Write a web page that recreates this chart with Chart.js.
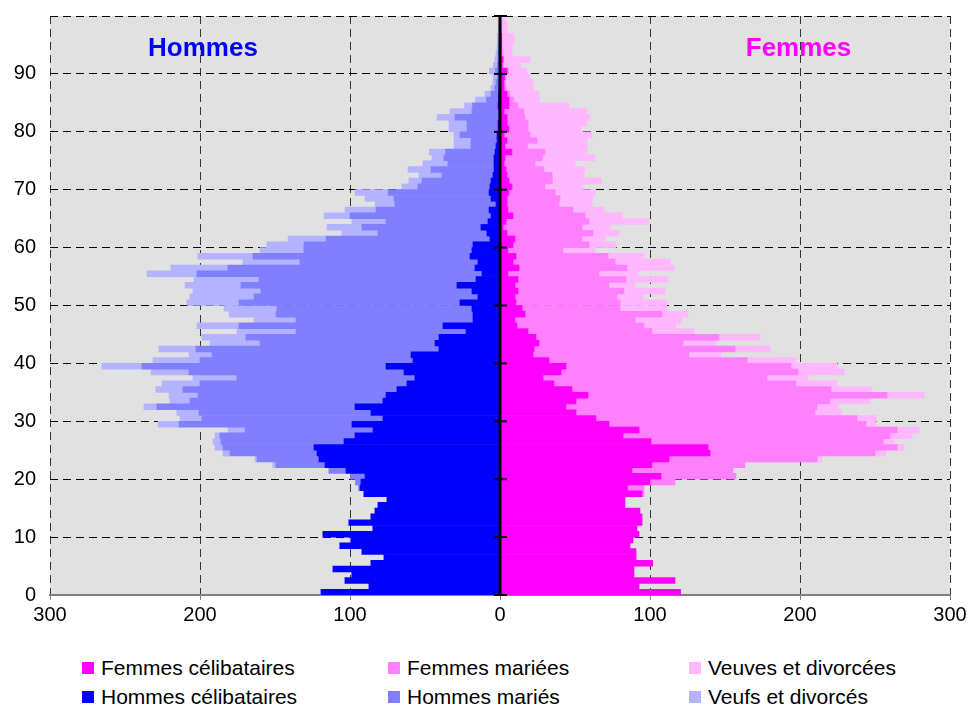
<!DOCTYPE html>
<html>
<head>
<meta charset="utf-8">
<script src="https://cdn.jsdelivr.net/npm/chart.js@4.4.0/dist/chart.umd.min.js"></script>
<style>
  body { margin: 0; background: #fff; font-family: "Liberation Sans", Arial, sans-serif; }
  #wrap { position: relative; width: 970px; height: 709px; }
  #box { position: absolute; left: 0; top: 0; width: 970px; height: 640px; }
  #legende .item { position: absolute; display: flex; align-items: center; font-size: 21px; color: #000; white-space: nowrap; height: 24px; }
  #legende .sw { width: 12px; height: 12px; margin-right: 7px; display: inline-block; }
</style>
</head>
<body>
<div id="wrap">
  <div id="box"><canvas id="pyramide"></canvas></div>
  <div id="legende"></div>
</div>
<script>
// ages 0 a 99
const ages = Array.from({ length: 100 }, (_, i) => i);
const ticksAge = [0, 10, 20, 30, 40, 50, 60, 70, 80, 90];

const hommesCelib = [
  119.3, 87.3, 103.3, 98.7, 111.3, 86, 77.3, 92, 106.7, 99.3,
  118, 84.7, 100.7, 86, 83.3, 81.3, 75.3, 90.7, 93.3, 92.7,
  90, 102.7, 116.7, 120.7, 122, 124, 104, 96.7, 84.7, 98.7,
  78, 86, 96.7, 78, 76, 68.7, 62, 56.7, 64, 76,
  58, 59.3, 40.7, 43.3, 40.7, 22.7, 38, 18, 18, 18.7,
  26.7, 14.7, 18.7, 28.7, 16, 12, 16.7, 14.7, 20, 18.7,
  18, 6.7, 8.7, 12.7, 8, 6, 7.3, 2.7, 6, 7.3,
  6.7, 6, 4.7, 4, 4, 4, 3.3, 2.7, 2, 2,
  1.3, 1.3, 0.7, 0.7, 1.3, 1, 1, 0.7, 0.7, 0.3,
  0.5, 0.3, 0.3, 0.2, 0, 0, 0, 0, 0, 0
];
const hommesMaries = [
  0, 0, 0, 0, 0, 0, 0, 0, 0, 0,
  0, 0, 0, 0, 0, 0, 0, 0, 1, 3.6,
  9.3, 11.3, 32.7, 41.3, 58, 60.7, 82, 90, 85.3, 115.3,
  120.7, 114.7, 132, 128.7, 125.3, 142.7, 138, 118.7, 143.3, 162.7,
  142, 132.7, 162, 116.7, 128.7, 113.3, 136, 118, 131.3, 130,
  147.3, 149.3, 140.7, 144, 144.7, 190, 164.7, 118.7, 144.7, 112,
  112.7, 109.3, 72.7, 79.3, 68, 94, 75.3, 67.3, 64.7, 67.3,
  48, 46, 34, 42, 30.7, 33.3, 33, 16.7, 17.3, 24.7,
  20.7, 20.7, 29.3, 18, 17, 8, 5, 2.7, 2, 1.5,
  2.5, 1.5, 1, 1, 1, 0.7, 0.5, 0.3, 0.3, 0.3
];
const hommesVeufs = [
  0, 0, 0, 0, 0, 0, 0, 0, 0, 0,
  0, 0, 0, 0, 0, 0, 0, 0, 0, 0,
  0, 0, 2, 1.3, 4.7, 5.3, 5.3, 3.3, 11.3, 14,
  14.7, 14.7, 8.7, 13.3, 19.3, 18, 25.3, 29.3, 25.3, 26.7,
  31.3, 15.3, 24.7, 33.3, 29.3, 39.3, 28, 28, 31.3, 35.3,
  34.7, 42.7, 45.3, 37.3, 43.3, 33.3, 38, 38, 36.7, 29.3,
  24.7, 25.3, 24, 23.3, 22.7, 17.3, 20.7, 13.3, 19.3, 22,
  10.7, 8.7, 15.3, 15.3, 16.7, 8, 10.7, 11.3, 11.3, 4,
  12, 12, 12, 14.7, 5.3, 7.3, 4, 2.7, 2, 2.7,
  4, 2.7, 2, 1.5, 1, 1, 1.3, 0.7, 0.3, 0.3
];

const femmesCelib = [
  120.4, 92.7, 116.7, 89.3, 89.3, 101.8, 90.7, 90.7, 86.7, 88.7,
  92.7, 91.3, 94.7, 94.7, 93.3, 83.3, 83.3, 94.7, 84.9, 100,
  107.3, 88, 101.3, 112.7, 140, 138.7, 100.7, 82, 92.7, 72.7,
  64, 50.7, 44, 50.7, 58.7, 48, 36, 28.7, 40.7, 44,
  32.7, 22, 22.7, 26, 24, 18.7, 11.3, 10, 16.7, 14.7,
  10.7, 10, 12, 10, 12, 5.3, 12.7, 8.7, 10.7, 5.3,
  8.7, 10, 4.7, 2, 4, 8.7, 5.3, 4.7, 4.7, 6,
  8, 6, 4.7, 4, 2.7, 3.3, 8, 3.3, 4.7, 2.7,
  6, 4.7, 4.7, 2.7, 6, 6, 4.7, 2.7, 2.7, 3,
  4.7, 1.5, 2, 1, 1, 1, 1, 0.7, 0.7, 0.5
];
const femmesMariees = [
  0, 0, 0, 0, 0, 0, 0, 0, 0, 0,
  0, 0, 0, 0, 0, 0, 0, 1.3, 11.1, 16.7,
  50, 67.3, 62, 98.7, 110, 126, 154.7, 178, 172, 171.3,
  174, 159.3, 167.3, 169.3, 199.3, 172.7, 161.3, 149.3, 158, 150,
  132, 104, 134, 96, 122, 82.7, 84.7, 80, 91.3, 65.3,
  69.3, 68, 70.7, 62.7, 72, 60.7, 72, 68, 61.3, 36.7,
  50.7, 44.7, 57.3, 52.7, 55.3, 48, 43.3, 34.7, 35.3, 30.7,
  22, 29, 30, 25.3, 20.7, 25, 22, 15, 20, 17.3,
  12.7, 14, 12, 13.3, 6, 3, 2, 1.3, 1, 1,
  1, 0.5, 0.5, 0.3, 0.3, 0.3, 0.3, 0, 0, 0
];
const femmesVeuves = [
  0, 0, 0, 0, 0, 0, 0, 0, 0, 0,
  0, 0, 0, 0, 0, 0, 0, 0, 0, 0,
  0, 0, 0, 3.3, 7.3, 4.7, 7.3, 14.7, 14.7, 6.7,
  12.7, 18, 14, 26.7, 24.7, 27.3, 27.3, 27.3, 30.7, 30.7,
  32.7, 21.3, 23.3, 22, 27.3, 28, 21.3, 31.3, 17.3, 31.3,
  31.3, 17.3, 27.3, 17.3, 28, 26, 31.3, 36.7, 24, 21.3,
  18, 15.3, 17.3, 18.7, 40, 24.7, 20.7, 22, 22, 26.7,
  25.3, 32.7, 21.3, 27.3, 26.7, 35, 28, 40, 33.3, 41.3,
  35.3, 39.3, 43.3, 42, 34, 17.3, 19.3, 18, 18.3, 16,
  12.3, 12, 17.5, 6.7, 6.7, 8, 8, 4, 4, 3
];

// hommes a gauche (valeurs negatives), barre centree sur age + 0.5
function serie(valeurs, signe) {
  return valeurs.map((v, i) => ({ x: signe * v, y: ages[i] + 0.5 }));
}

// une seule pile : les negatifs et les positifs s'empilent chacun de leur cote
const datasets = [
  { label: 'Hommes célibataires', data: serie(hommesCelib, -1), backgroundColor: '#0000ff' },
  { label: 'Hommes mariés', data: serie(hommesMaries, -1), backgroundColor: '#8080ff' },
  { label: 'Veufs et divorcés', data: serie(hommesVeufs, -1), backgroundColor: '#b3b3ff' },
  { label: 'Femmes célibataires', data: serie(femmesCelib, 1), backgroundColor: '#ff00ff' },
  { label: 'Femmes mariées', data: serie(femmesMariees, 1), backgroundColor: '#ff80ff' },
  { label: 'Veuves et divorcées', data: serie(femmesVeuves, 1), backgroundColor: '#ffb8ff' }
];
datasets.forEach(d => {
  d.barPercentage = 1;
  d.categoryPercentage = 1;
  d.borderWidth = 0;
});

const fondGris = {
  id: 'fondGris',
  beforeDraw(chart) {
    const { ctx, chartArea: a } = chart;
    ctx.save();
    ctx.fillStyle = '#e1e1e1';
    ctx.fillRect(a.left, a.top, a.right - a.left, a.bottom - a.top);
    ctx.restore();
  }
};

const axeCentral = {
  id: 'axeCentral',
  afterDatasetsDraw(chart) {
    const { ctx, chartArea, scales: { x, y } } = chart;
    const x0 = x.getPixelForValue(0);
    ctx.save();
    ctx.strokeStyle = '#000';
    ctx.lineWidth = 3;
    ctx.beginPath();
    ctx.moveTo(x0, chartArea.top);
    ctx.lineTo(x0, chartArea.bottom);
    ctx.stroke();
    ctx.lineWidth = 2;
    ticksAge.concat([100]).forEach(a => {
      const py = y.getPixelForValue(a);
      ctx.beginPath();
      ctx.moveTo(x0 - 6, py);
      ctx.lineTo(x0 + 7, py);
      ctx.stroke();
    });
    ctx.font = 'bold 26px "Liberation Sans", Arial, sans-serif';
    ctx.textAlign = 'center';
    ctx.textBaseline = 'middle';
    ctx.fillStyle = '#0000ff';
    ctx.fillText('Hommes', x.getPixelForValue(-198), y.getPixelForValue(94.3));
    ctx.fillStyle = '#ff00ff';
    ctx.fillText('Femmes', x.getPixelForValue(199), y.getPixelForValue(94.3));
    ctx.restore();
  }
};

Chart.defaults.font.family = '"Liberation Sans", Arial, sans-serif';
Chart.defaults.font.size = 20;
Chart.defaults.color = '#000';

const chart = new Chart(document.getElementById('pyramide'), {
  type: 'bar',
  data: { datasets: datasets },
  options: {
    indexAxis: 'y',
    responsive: true,
    maintainAspectRatio: false,
    animation: false,
    layout: { padding: { top: 16, right: 20, left: 0, bottom: 0 } },
    plugins: {
      legend: { display: false },
      tooltip: { enabled: false }
    },
    scales: {
      x: {
        type: 'linear',
        stacked: true,
        min: -300,
        max: 300,
        afterFit: s => { s.height = 45; },
        ticks: { stepSize: 100, padding: 3, callback: v => Math.abs(v) },
        grid: {
          color: c => c.tick.value === 0 ? 'rgba(0,0,0,0)' : '#333',
          tickColor: '#808080',
          tickLength: 5,
          tickBorderDash: [],
          lineWidth: 1
        },
        border: { display: true, color: '#808080', width: 2, dash: [8, 5] }
      },
      y: {
        type: 'linear',
        stacked: true,
        offset: false,
        min: 0,
        max: 100,
        afterFit: s => {
          s.width = 50;
          s.paddingTop = 0;
          s.paddingBottom = 0;
        },
        afterBuildTicks: s => { s.ticks = ticksAge.concat([100]).map(v => ({ value: v })); },
        ticks: { padding: 14, callback: v => v === 100 ? '' : v },
        grid: { offset: false, color: '#000', drawTicks: false, lineWidth: 1 },
        border: { display: false, dash: [8, 5] }
      }
    }
  },
  plugins: [fondGris, axeCentral]
});

// legende sur deux lignes, trois colonnes
const ordreLegende = [3, 4, 5, 0, 1, 2];
const colonnes = [82, 388, 689];
const lignes = [656, 685];
const legende = document.getElementById('legende');
ordreLegende.forEach((idx, k) => {
  const d = chart.data.datasets[idx];
  const item = document.createElement('div');
  item.className = 'item';
  item.style.left = colonnes[k % 3] + 'px';
  item.style.top = lignes[Math.floor(k / 3)] + 'px';
  item.innerHTML = '<span class="sw" style="background:' + d.backgroundColor + '"></span>' + d.label;
  legende.appendChild(item);
});
</script>
</body>
</html>
